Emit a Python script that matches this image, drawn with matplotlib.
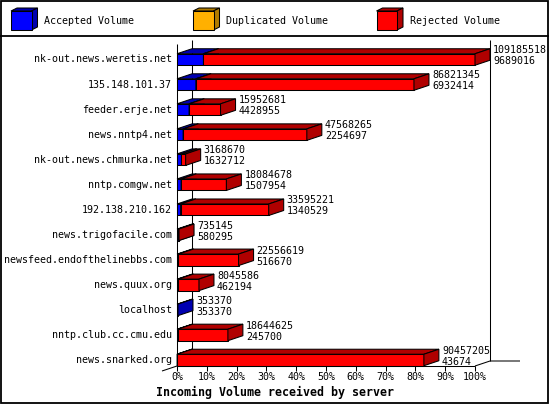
import matplotlib
matplotlib.use('Agg')
import matplotlib.pyplot as plt
from matplotlib.patches import Polygon, Rectangle

# ---------------- data ----------------
servers = [
    "nk-out.news.weretis.net",
    "135.148.101.37",
    "feeder.erje.net",
    "news.nntp4.net",
    "nk-out.news.chmurka.net",
    "nntp.comgw.net",
    "192.138.210.162",
    "news.trigofacile.com",
    "newsfeed.endofthelinebbs.com",
    "news.quux.org",
    "localhost",
    "nntp.club.cc.cmu.edu",
    "news.snarked.org",
]
total_volume = [109185518, 86821345, 15952681, 47568265, 3168670, 18084678,
                33595221, 735145, 22556619, 8045586, 353370, 18644625, 90457205]
accepted_volume = [9689016, 6932414, 4428955, 2254697, 1632712, 1507954,
                   1340529, 580295, 516670, 462194, 353370, 245700, 43674]
duplicated_volume = [0, 0, 0, 0, 0, 0, 0, 0, 0, 0, 0, 0, 0]
rejected_volume = [99496502, 79888931, 11523726, 45313568, 1535958, 16576724,
                   32254692, 154850, 22039949, 7583392, 0, 18398925, 90413531]
series_labels = ["Accepted Volume", "Duplicated Volume", "Rejected Volume"]
tick_values = [0, 10, 20, 30, 40, 50, 60, 70, 80, 90, 100]
tick_labels = ["0%", "10%", "20%", "30%", "40%", "50%", "60%", "70%", "80%", "90%", "100%"]
x_title = "Incoming Volume received by server"

# ---------------- style ----------------
FRONT = ['#0000ff', '#ffb000', '#ff0000']
SIDE = ['#0000b0', '#b07c00', '#b00000']
MONO = 'DejaVu Sans Mono'
FS = 7.2
LW = 0.75

W, H = 550, 405
fig = plt.figure(figsize=(W / 100, H / 100), dpi=100)
fig.patch.set_facecolor('white')

deco = fig.add_axes([0, 0, 1, 1])
deco.set_xlim(0, W)
deco.set_ylim(H, 0)
deco.axis('off')

ax = fig.add_axes([0, 0, 1, 1], zorder=2)
ax.patch.set_alpha(0)
ax.axis('off')

X0, XPX = 177.0, 2.98      # pixel of 0 %, pixels per percent
Y0, YPX = 59.5, 25.04      # pixel centre of first row, pixels per row
ax.set_xlim(-X0 / XPX, (W - X0) / XPX)
ax.set_ylim((H - Y0) / YPX, -Y0 / YPX)


def ry(p):
    return (p - Y0) / YPX


def rx(p):
    return (p - X0) / XPX


DX = 15 / XPX
DY = 5 / YPX
BH = 11.5 / YPX

# ---------------- frame / legend ----------------
deco.add_patch(Rectangle((0.75, 0.75), 547.5, 402.5, fill=False, lw=1.3,
                         edgecolor='black'))
deco.plot([0, 548], [35.5, 35.5], color='black', lw=1.3)

leg_x = [11, 193, 376.5]
for k, lab in enumerate(series_labels):
    x0 = leg_x[k]
    x1 = x0 + 20.5
    y0, y1 = 11, 30
    d, e = 6, 3
    deco.add_patch(Polygon([(x0, y0), (x0 + d, y0 - e), (x1 + d, y0 - e), (x1, y0)],
                           closed=True, facecolor=SIDE[k], edgecolor='black', lw=LW))
    deco.add_patch(Polygon([(x1, y0), (x1 + d, y0 - e), (x1 + d, y1 - e), (x1, y1)],
                           closed=True, facecolor=SIDE[k], edgecolor='black', lw=LW))
    deco.add_patch(Rectangle((x0, y0), x1 - x0, y1 - y0, facecolor=FRONT[k],
                             edgecolor='black', lw=LW))
    deco.text(x0 + 33.5, 21, lab, family=MONO, fontsize=FS, ha='left', va='center')

# ---------------- axis lines ----------------
lk = dict(color='black', lw=LW, zorder=1, solid_capstyle='butt')
ax.plot([DX, DX], [ry(40), ry(361)], **lk)
ax.plot([100 + DX, 100 + DX], [ry(40), ry(361)], **lk)
ax.plot([0, 0], [ry(44), ry(366)], **lk)
ax.plot([0, 100], [ry(366), ry(366)], **lk)
ax.plot([-DX, 0], [ry(371), ry(366)], **lk)
ax.plot([100, 100 + DX, 100 + DX + 30 / XPX], [ry(366), ry(361), ry(361)], **lk)
for tv, tl in zip(tick_values, tick_labels):
    ax.plot([tv, tv], [ry(366), ry(371)], **lk)
    ax.text(tv, ry(377.5), tl, family=MONO, fontsize=FS, ha='center', va='center')

deco.text(156, 392, x_title, family=MONO, fontsize=8.4, fontweight='bold',
          ha='left', va='center')

# ---------------- bars ----------------
vmax = max(total_volume)
series = [accepted_volume, duplicated_volume, rejected_volume]
for i in range(len(servers)):
    left = 0.0
    yt = i - BH / 2
    yb = i + BH / 2
    for k, s in enumerate(series):
        w = s[i] / vmax * 100
        if w <= 0:
            continue
        r = left + w
        ax.barh(i, w, left=left, height=BH, color=FRONT[k], edgecolor='black',
                linewidth=LW, zorder=3)
        ax.add_patch(Polygon([(left, yt), (left + DX, yt - DY), (r + DX, yt - DY), (r, yt)],
                             closed=True, facecolor=SIDE[k], edgecolor='black',
                             lw=LW, zorder=3))
        ax.add_patch(Polygon([(r, yt), (r + DX, yt - DY), (r + DX, yb - DY), (r, yb)],
                             closed=True, facecolor=SIDE[k], edgecolor='black',
                             lw=LW, zorder=3))
        left = r
    xe = total_volume[i] / vmax * 100 + DX + 3 / XPX
    ax.text(xe, i - 0.37, str(total_volume[i]), family=MONO, fontsize=FS,
            ha='left', va='center', zorder=4)
    ax.text(xe, i + 0.07, str(accepted_volume[i]), family=MONO, fontsize=FS,
            ha='left', va='center', zorder=4)
    ax.text(rx(172), i, servers[i], family=MONO, fontsize=FS, ha='right',
            va='center', zorder=4)

fig.savefig('out.png', dpi=100, facecolor='white')
